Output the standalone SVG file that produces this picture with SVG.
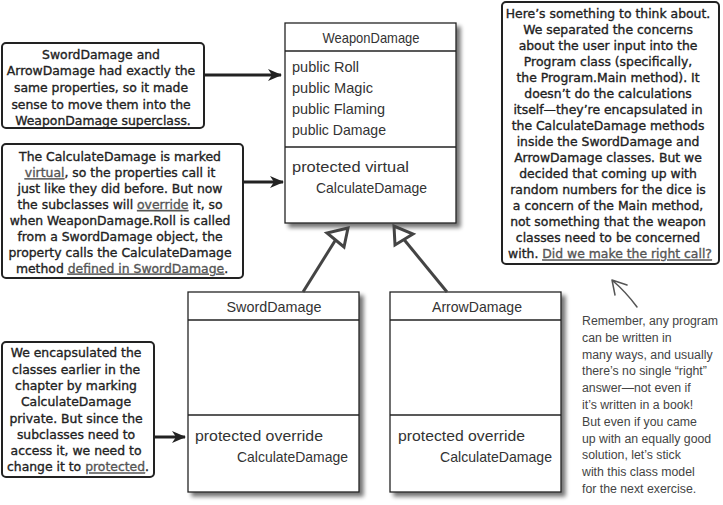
<svg xmlns="http://www.w3.org/2000/svg" width="723" height="505" viewBox="0 0 723 505">
<defs>
<filter id="sh" x="-10%" y="-10%" width="130%" height="130%">
<feGaussianBlur in="SourceAlpha" stdDeviation="2"/>
<feOffset dx="4" dy="4"/>
<feComponentTransfer><feFuncA type="linear" slope="0.55"/></feComponentTransfer>
<feMerge><feMergeNode/><feMergeNode in="SourceGraphic"/></feMerge>
</filter>
<marker id="ah" markerWidth="14" markerHeight="12" refX="13" refY="6" orient="auto" markerUnits="userSpaceOnUse">
<path d="M0,0 L14,6 L0,12 L4,6 z" fill="#222"/>
</marker>
<style>
.note{fill:#fff;stroke:#222;stroke-width:2}
.ct{font-family:"DejaVu Sans",sans-serif;font-size:12.4px;fill:#222;stroke:#222;stroke-width:0.35;text-anchor:middle}
.u{fill:#555;stroke:#555;text-decoration:underline}
.cls{fill:#fff;stroke:#222;stroke-width:1.3}
.div{stroke:#222;stroke-width:1.3}
.hw{font-family:"Liberation Sans",sans-serif;font-size:15px;fill:#333}
.hn{font-family:"Liberation Sans",sans-serif;font-size:12.3px;fill:#444}
.conn{stroke:#222;stroke-width:3;fill:none}
.inh{stroke:#444;stroke-width:3;fill:none;stroke-linejoin:miter}
</style>
</defs>
<rect width="723" height="505" fill="#fff"/>

<g id="note-properties">
<rect class="note" x="2" y="43" width="202" height="85" rx="4"/>
<text class="ct">
<tspan x="103" y="58.5">SwordDamage and</tspan>
<tspan x="103" y="75.2">ArrowDamage had exactly the</tspan>
<tspan x="103" y="91.9">same properties, so it made</tspan>
<tspan x="103" y="108.6">sense to move them into the</tspan>
<tspan x="103" y="125.3">WeaponDamage superclass.</tspan>
</text>
</g>

<g id="note-virtual">
<rect class="note" x="2" y="144" width="241" height="134" rx="4"/>
<text class="ct">
<tspan x="122" y="161.3">The CalculateDamage is marked</tspan>
<tspan x="122" y="177.2"><tspan class="u">virtual</tspan>, so the properties call it</tspan>
<tspan x="122" y="193.1">just like they did before. But now</tspan>
<tspan x="122" y="209">the subclasses will <tspan class="u">override</tspan> it, so</tspan>
<tspan x="122" y="224.9">when WeaponDamage.Roll is called</tspan>
<tspan x="122" y="240.8">from a SwordDamage object, the</tspan>
<tspan x="122" y="256.7">property calls the CalculateDamage</tspan>
<tspan x="122" y="272.6">method <tspan class="u">defined in SwordDamage</tspan>.</tspan>
</text>
</g>

<g id="note-protected">
<rect class="note" x="2" y="342" width="152" height="135" rx="4"/>
<text class="ct">
<tspan x="78" y="357.3">We encapsulated the</tspan>
<tspan x="78" y="373.6">classes earlier in the</tspan>
<tspan x="78" y="389.9">chapter by marking</tspan>
<tspan x="78" y="406.2">CalculateDamage</tspan>
<tspan x="78" y="422.5">private. But since the</tspan>
<tspan x="78" y="438.8">subclasses need to</tspan>
<tspan x="78" y="455.1">access it, we need to</tspan>
<tspan x="78" y="471.4">change it to <tspan class="u">protected</tspan>.</tspan>
</text>
</g>

<g id="note-think">
<rect class="note" x="502" y="2" width="217" height="262" rx="4"/>
<text class="ct">
<tspan x="610" y="17.6">Here’s something to think about.</tspan>
<tspan x="610" y="33.7">We separated the concerns</tspan>
<tspan x="610" y="49.7">about the user input into the</tspan>
<tspan x="610" y="65.8">Program class (specifically,</tspan>
<tspan x="610" y="81.8">the Program.Main method). It</tspan>
<tspan x="610" y="97.9">doesn’t do the calculations</tspan>
<tspan x="610" y="113.9">itself—they’re encapsulated in</tspan>
<tspan x="610" y="130">the CalculateDamage methods</tspan>
<tspan x="610" y="146">inside the SwordDamage and</tspan>
<tspan x="610" y="162.1">ArrowDamage classes.  But we</tspan>
<tspan x="610" y="178.1">decided that coming up with</tspan>
<tspan x="610" y="194.2">random numbers for the dice is</tspan>
<tspan x="610" y="210.2">a concern of the Main method,</tspan>
<tspan x="610" y="226.3">not something that the weapon</tspan>
<tspan x="610" y="242.3">classes need to be concerned</tspan>
<tspan x="610" y="258.4">with. <tspan class="u">Did we make the right call?</tspan></tspan>
</text>
</g>

<g id="WeaponDamage">
<rect class="cls" x="285" y="23" width="171" height="200" filter="url(#sh)"/>
<line class="div" x1="285" y1="51" x2="456" y2="51"/>
<line class="div" x1="285" y1="147" x2="456" y2="147"/>
<text class="hw" x="371" y="43" text-anchor="middle" textLength="97" lengthAdjust="spacingAndGlyphs">WeaponDamage</text>
<text class="hw" x="292" y="72" textLength="67" lengthAdjust="spacingAndGlyphs">public Roll</text>
<text class="hw" x="292" y="93" textLength="81" lengthAdjust="spacingAndGlyphs">public Magic</text>
<text class="hw" x="292" y="114" textLength="93" lengthAdjust="spacingAndGlyphs">public Flaming</text>
<text class="hw" x="292" y="135" textLength="94" lengthAdjust="spacingAndGlyphs">public Damage</text>
<text class="hw" x="292" y="172" textLength="117" lengthAdjust="spacingAndGlyphs">protected virtual</text>
<text class="hw" x="316" y="193" textLength="111" lengthAdjust="spacingAndGlyphs">CalculateDamage</text>
</g>

<g id="SwordDamage">
<rect class="cls" x="188" y="292" width="171" height="200" filter="url(#sh)"/>
<line class="div" x1="188" y1="320" x2="359" y2="320"/>
<line class="div" x1="188" y1="415" x2="359" y2="415"/>
<text class="hw" x="274" y="312" text-anchor="middle" textLength="95" lengthAdjust="spacingAndGlyphs">SwordDamage</text>
<text class="hw" x="195" y="441" textLength="128" lengthAdjust="spacingAndGlyphs">protected override</text>
<text class="hw" x="237" y="462" textLength="111" lengthAdjust="spacingAndGlyphs">CalculateDamage</text>
</g>

<g id="ArrowDamage">
<rect class="cls" x="390" y="292" width="171" height="200" filter="url(#sh)"/>
<line class="div" x1="390" y1="320" x2="561" y2="320"/>
<line class="div" x1="390" y1="415" x2="561" y2="415"/>
<text class="hw" x="477" y="312" text-anchor="middle" textLength="90" lengthAdjust="spacingAndGlyphs">ArrowDamage</text>
<text class="hw" x="398" y="441" textLength="127" lengthAdjust="spacingAndGlyphs">protected override</text>
<text class="hw" x="440" y="462" textLength="112" lengthAdjust="spacingAndGlyphs">CalculateDamage</text>
</g>

<g id="note-remember">
<text class="hn">
<tspan x="582" y="325">Remember, any program</tspan>
<tspan x="582" y="341.8">can be written in</tspan>
<tspan x="582" y="358.6">many ways, and usually</tspan>
<tspan x="582" y="375.4">there’s no single “right”</tspan>
<tspan x="582" y="392.2">answer—not even if</tspan>
<tspan x="582" y="409">it’s written in a book!</tspan>
<tspan x="582" y="425.8">But even if you came</tspan>
<tspan x="582" y="442.6">up with an equally good</tspan>
<tspan x="582" y="459.4">solution, let’s stick</tspan>
<tspan x="582" y="476.2">with this class model</tspan>
<tspan x="582" y="493">for the next exercise.</tspan>
</text>
</g>

<g id="connectors">
<line class="conn" x1="204" y1="75" x2="281" y2="75" marker-end="url(#ah)"/>
<line class="conn" x1="243" y1="182" x2="283" y2="182" marker-end="url(#ah)"/>
<line class="conn" x1="154" y1="437" x2="185" y2="437" marker-end="url(#ah)"/>
<line class="inh" x1="303" y1="292" x2="335.5" y2="240"/>
<polygon class="inh" points="348,228 327,233 344,247"/>
<line class="inh" x1="447" y1="292" x2="404" y2="239.5"/>
<polygon class="inh" points="394,226 395,245 413,234"/>
<path d="M637,307 Q626,292 612,280 M612,280 L627,285 M612,280 L615,295" stroke="#555" stroke-width="1.5" fill="none" stroke-linecap="round"/>
</g>
</svg>
